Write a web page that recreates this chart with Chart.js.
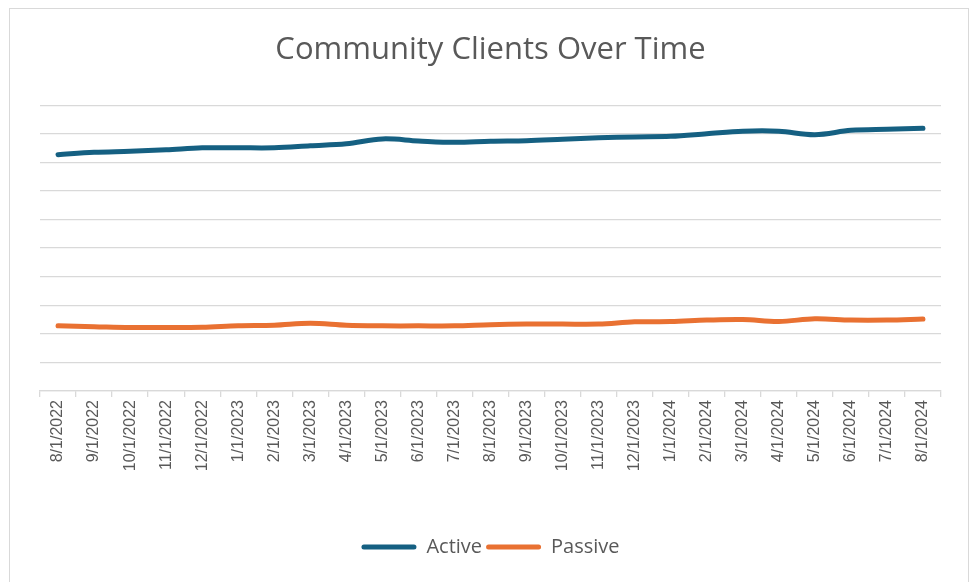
<!DOCTYPE html>
<html>
<head>
<meta charset="utf-8">
<script src="https://cdn.jsdelivr.net/npm/chart.js@4.4.1/dist/chart.umd.min.js"></script>
<style>
  html, body { margin: 0; padding: 0; background: #ffffff; }
  #wrap { position: relative; width: 979px; height: 582px; overflow: hidden; background: #fff; }
  #frame { position: absolute; left: 9px; top: 8px; width: 960px; height: 600px; border: 1.5px solid #d9d9d9; box-sizing: border-box; }
  canvas { position: absolute; left: 0; top: 0; }
</style>
</head>
<body>
<div id="wrap">
  <div id="frame"></div>
  <canvas id="c" width="979" height="582"></canvas>
</div>
<script>
const categories = ["8/1/2022","9/1/2022","10/1/2022","11/1/2022","12/1/2022","1/1/2023","2/1/2023","3/1/2023","4/1/2023","5/1/2023","6/1/2023","7/1/2023","8/1/2023","9/1/2023","10/1/2023","11/1/2023","12/1/2023","1/1/2024","2/1/2024","3/1/2024","4/1/2024","5/1/2024","6/1/2024","7/1/2024","8/1/2024"];
const activeValues = [82.7, 83.5, 83.9, 84.4, 85.1, 85.1, 85.1, 85.8, 86.5, 88.2, 87.5, 87.0, 87.4, 87.6, 88.1, 88.6, 88.9, 89.1, 90.0, 90.9, 90.9, 89.7, 91.2, 91.6, 91.9];
const passiveValues = [22.8, 22.5, 22.2, 22.2, 22.3, 22.8, 23.0, 23.7, 23.0, 22.8, 22.8, 22.8, 23.2, 23.4, 23.4, 23.4, 24.2, 24.3, 24.8, 25.0, 24.3, 25.3, 24.8, 24.8, 25.2];
const seriesNames = ["Active", "Passive"];
const chartTitle = "Community Clients Over Time";

const uiFont = "'Open Sans', sans-serif";
const textColor = "#595959";
const gridColor = "#d9d9d9";

new Chart(document.getElementById("c"), {
  type: "line",
  data: {
    labels: categories,
    datasets: [
      { label: seriesNames[0], data: activeValues, borderColor: "#156082", backgroundColor: "#156082",
        borderWidth: 5, pointRadius: 0, tension: 0.35, borderCapStyle: "round", borderJoinStyle: "round", fill: false },
      { label: seriesNames[1], data: passiveValues, borderColor: "#E97132", backgroundColor: "#E97132",
        borderWidth: 5, pointRadius: 0, tension: 0.35, borderCapStyle: "round", borderJoinStyle: "round", fill: false }
    ]
  },
  options: {
    responsive: false,
    animation: false,
    devicePixelRatio: 1,
    layout: { padding: { left: 40, right: 38, top: 31, bottom: 15 } },
    plugins: {
      title: {
        display: true, text: chartTitle, color: textColor,
        font: { family: uiFont, size: 31, weight: "normal" },
        padding: { top: 1, bottom: 36 }
      },
      legend: {
        position: "bottom",
        labels: {
          color: textColor,
          font: { family: uiFont, size: 20 },
          boxWidth: 55, boxHeight: 5, padding: 4,
          generateLabels(chart) {
            const items = Chart.defaults.plugins.legend.labels.generateLabels(chart);
            items.forEach(it => { it.lineWidth = 0; it.borderRadius = 2.5; });
            return items;
          }
        }
      },
      tooltip: { enabled: false }
    },
    scales: {
      x: {
        offset: true,
        grid: { display: true, drawOnChartArea: false, drawTicks: true, tickLength: 6, color: gridColor, lineWidth: 1.3, offset: true },
        border: { display: true, color: gridColor, width: 1.3 },
        ticks: { autoSkip: false, minRotation: 90, maxRotation: 90, color: textColor,
                 font: { family: "'Liberation Sans', Arial, sans-serif", size: 16 }, padding: 3 },
        afterFit(scale) { scale.height = 142; }
      },
      y: {
        min: 0, max: 100,
        ticks: { display: false, stepSize: 10 },
        grid: { color: gridColor, lineWidth: 1.3, drawTicks: false },
        border: { display: false },
        afterFit(scale) { scale.width = 0; }
      }
    }
  }
});
</script>
</body>
</html>
